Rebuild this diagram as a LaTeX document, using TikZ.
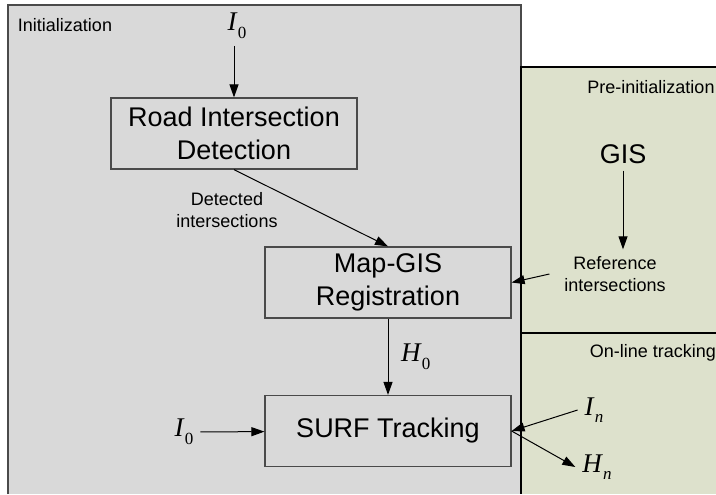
\documentclass[tikz,border=0pt]{standalone}
\usepackage{fontspec}
\setmainfont{Liberation Sans}
\newfontfamily\timesfont{Liberation Serif}
\usetikzlibrary{arrows.meta}

\definecolor{initgray}{HTML}{D9D9D9}
\definecolor{pregreen}{HTML}{DDE1CC}
\definecolor{edgegray}{HTML}{4A4A4A}

\newcommand{\varsub}[2]{{\timesfont\itshape #1}\kern0.6pt\raisebox{-3.8pt}{\timesfont\fontsize{8.5}{9}\selectfont #2}}

\begin{document}
\begin{tikzpicture}[
    x=0.5pt, y=-0.5pt,
    stage/.style={draw=edgegray, line width=0.6pt, align=center, minimum width=123pt, minimum height=35.5pt,
      inner sep=2pt, font=\fontsize{13.5}{16.5}\selectfont},
    note/.style={align=center, font=\fontsize{9}{11}\selectfont},
    sym/.style={font=\fontsize{13.5}{15}\selectfont},
    flow/.style={-{Triangle[length=6.5pt, width=4.5pt]}, line width=0.5pt},
  ]
  \useasboundingbox (0,0) rectangle (716,494);

  \fill[initgray] (8,5) rectangle (521,494);
  \draw[edgegray, line width=0.8pt] (8,494) -- (8,5) -- (521,5) -- (521,67);
  \fill[pregreen] (521,67) rectangle (716,494);
  \draw[line width=0.8pt] (716,67) -- (521,67) -- (521,494);
  \draw[line width=0.8pt] (521,333) -- (716,333);

  \node[note] (initlbl) at (65,25) {Initialization};
  \node[note] (prelbl) at (651,87) {Pre-initialization};
  \node[note] (onlbl) at (653,353) {On-line tracking};

  \node[stage] (road) at (234,133.5) {Road Intersection\\Detection};
  \node[stage] (mapgis) at (388,282.5) {Map-GIS\\Registration};
  \node[stage] (surf) at (388,431) {SURF Tracking};

  \node[sym] (i0top) at (237,26) {\varsub{I}{0}};
  \node[sym] (i0left) at (184,432) {\varsub{I}{0}};
  \node[sym] (in) at (594,410) {\varsub{I}{\itshape n}};
  \node[sym] (hn) at (597,467) {\varsub{H}{\itshape n}};
  \node[font=\fontsize{13.5}{16.5}\selectfont] (gis) at (623,154) {GIS};
  \node[note] (ref) at (615,274) {Reference\\intersections};
  \node[note] (det) at (227,210) {Detected\\intersections};

  \draw[flow] (road.north |- i0top.south) -- (road.north);
  \draw[flow] (road.south) -- (mapgis.north);
  \draw[flow] (gis.south) -- (gis.south |- ref.north);
  \draw[flow] ([xshift=-4pt]ref.west) -- (mapgis.east);
  \draw[flow] (mapgis) -- node[sym, right, xshift=3pt] (h0) {\varsub{H}{0}} (surf);
  \draw[flow] (i0left) -- (surf);
  \draw[flow] (in.west) -- (surf.east);
  \draw[flow] (surf.east) -- (hn.west);
\end{tikzpicture}
\end{document}
